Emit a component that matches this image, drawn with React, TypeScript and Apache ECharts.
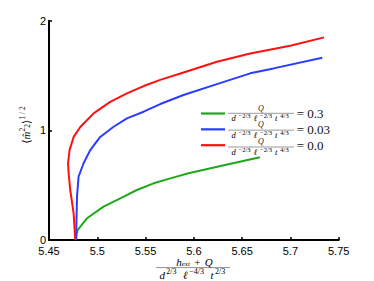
import React, { useEffect, useRef } from 'react';
import * as echarts from 'echarts';

// Legend values of Q / (d^{-2/3} l^{-2/3} t^{4/3})
const qLabels = ['0.3', '0.03', '0.0'];
const seriesColors = ['#1ea81a', '#2a3cff', '#ff1010'];

// Q = 0.3 (green)
const greenX = [5.478, 5.4786, 5.4796, 5.4893, 5.5065, 5.5238, 5.541, 5.5583, 5.5756, 5.5945, 5.63, 5.6685];
const greenY = [0, 0.05, 0.091, 0.198, 0.304, 0.38, 0.456, 0.517, 0.562, 0.608, 0.68, 0.754];

// Q = 0.03 (blue)
const blueX = [5.478, 5.4785, 5.479, 5.4806, 5.4858, 5.4927, 5.503, 5.5169, 5.5307, 5.548, 5.5652, 5.5893, 5.6239, 5.6584, 5.6825, 5.733];
const blueY = [0, 0.2, 0.395, 0.577, 0.7, 0.82, 0.94, 1.033, 1.109, 1.17, 1.24, 1.322, 1.422, 1.52, 1.565, 1.662];

// Q = 0.0 (red)
const redX = [5.4772, 5.4755, 5.472, 5.4703, 5.4697, 5.4713, 5.4755, 5.4824, 5.4962, 5.5134, 5.5307, 5.548, 5.5652, 5.5893, 5.6239, 5.6584, 5.6998, 5.7348];
const redY = [0, 0.243, 0.456, 0.61, 0.7, 0.82, 0.94, 1.03, 1.155, 1.26, 1.337, 1.404, 1.46, 1.528, 1.625, 1.7, 1.771, 1.848];

const xMin = 5.45;
const xMax = 5.75;
const xStep = 0.05;
const yMin = 0;
const yMax = 2;
const yStep = 1;

const zip = (xs: number[], ys: number[]) => xs.map((x, i) => [x, ys[i]]);

const seriesNames = qLabels.map((q) => `Q/(d^(-2/3) ℓ^(-2/3) t^(4/3)) = ${q}`);
const seriesData = [zip(greenX, greenY), zip(blueX, blueY), zip(redX, redY)];

const SERIF = '"Liberation Serif", "DejaVu Serif", serif';
const SANS = '"Liberation Sans", Arial, sans-serif';

export default function App() {
  const ref = useRef<HTMLDivElement>(null);

  useEffect(() => {
    if (!ref.current) return;
    const chart = echarts.init(ref.current, null, { renderer: 'svg' });

    const legBase = { fontSize: 8.5, fontStyle: 'italic', fontFamily: SERIF, color: '#222', lineHeight: 8 };
    const legSup = { fontSize: 6.5, fontFamily: SERIF, color: '#222', lineHeight: 3, height: 3, verticalAlign: 'top' };
    const denomRich = {
      d: { ...legBase, width: 5 },
      l: { ...legBase, width: 4.5 },
      t: { ...legBase, width: 3.5 },
      s: { ...legSup, width: 17 },
      s2: { ...legSup, width: 13 },
    };

    const legendGraphics: any[] = [];
    qLabels.forEach((_, i) => {
      const cy = 114 + i * 16.85;
      legendGraphics.push({
        type: 'text',
        x: 261,
        y: cy - 6,
        z: 100,
        style: { text: 'Q', font: `italic 8px ${SERIF}`, fill: '#222', align: 'center', verticalAlign: 'middle', lineHeight: 6 },
      });
      legendGraphics.push({
        type: 'line',
        z: 100,
        shape: { x1: 228, y1: cy - 0.7, x2: 294, y2: cy - 0.7 },
        style: { stroke: '#333', lineWidth: 0.5 },
      });
      legendGraphics.push({
        type: 'text',
        x: 261,
        y: cy + 4.2,
        z: 100,
        style: {
          text: '{d|d}{s|−2/3}{l|ℓ}{s|−2/3}{t|t}{s2|4/3}',
          rich: denomRich,
          align: 'center',
          verticalAlign: 'middle',
        },
      });
    });

    const numRich = {
      b: { fontSize: 11, fontStyle: 'italic', fontFamily: SERIF, color: '#444', lineHeight: 10 },
      r: { fontSize: 11, fontFamily: SERIF, color: '#444', lineHeight: 10, width: 15, align: 'center' },
      sub: { fontSize: 7, fontStyle: 'italic', fontFamily: SERIF, color: '#444', lineHeight: 5, height: 5, verticalAlign: 'bottom' },
    };

    const denRich = {
      b: { fontSize: 11, fontStyle: 'italic', fontFamily: SERIF, color: '#444', lineHeight: 10 },
      sp: { fontSize: 11, fontFamily: SERIF, color: '#444', lineHeight: 10, width: 5 },
      sup: { fontSize: 8, fontFamily: SERIF, color: '#444', lineHeight: 4, height: 4, verticalAlign: 'top', width: 13 },
      supw: { fontSize: 8, fontFamily: SERIF, color: '#444', lineHeight: 4, height: 4, verticalAlign: 'top', width: 18 },
    };

    const yRich = {
      p: { fontSize: 11, fontFamily: SERIF, color: '#808080', lineHeight: 13, verticalAlign: 'bottom' },
      m: { fontSize: 11, fontStyle: 'italic', fontFamily: SERIF, color: '#808080', lineHeight: 13, verticalAlign: 'bottom' },
      sup: { fontSize: 7.5, fontFamily: SERIF, color: '#808080', lineHeight: 4, verticalAlign: 'top' },
      sub: { fontSize: 7.5, fontFamily: SERIF, color: '#808080', lineHeight: 4, verticalAlign: 'bottom' },
    };

    chart.setOption({
      animation: false,
      backgroundColor: '#fff',
      grid: { left: 49, right: 35.3, top: 20.7, bottom: 41 },
      xAxis: {
        type: 'value',
        min: xMin,
        max: xMax,
        interval: xStep,
        axisLine: { show: true, lineStyle: { color: '#000', width: 2 } },
        axisTick: { show: true, inside: true, length: 3, lineStyle: { color: '#000', width: 1.5 } },
        axisLabel: { color: '#000', fontSize: 11, fontFamily: SANS, margin: 5.5, lineHeight: 10 },
        splitLine: { show: false },
      },
      yAxis: {
        type: 'value',
        min: yMin,
        max: yMax,
        interval: yStep,
        axisLine: { show: true, lineStyle: { color: '#000', width: 2 } },
        axisTick: { show: true, inside: true, length: 3, lineStyle: { color: '#000', width: 1.5 } },
        axisLabel: { color: '#000', fontSize: 11, fontFamily: SANS, margin: 3, lineHeight: 9 },
        splitLine: { show: false },
      },
      legend: {
        orient: 'vertical',
        left: 201,
        top: 107,
        padding: 0,
        itemGap: 2.85,
        itemWidth: 24,
        itemHeight: 2.2,
        icon: 'rect',
        selectedMode: false,
        data: seriesNames,
        formatter: (name: string) => {
          const i = seriesNames.indexOf(name);
          return `{gap| }{eq|= ${qLabels[i]}}`;
        },
        textStyle: {
          rich: {
            gap: { width: 66.7, lineHeight: 14, fontSize: 8 },
            eq: { fontFamily: SERIF, fontSize: 13, color: '#111', lineHeight: 14 },
          },
        },
      },
      series: seriesNames.map((name, i) => ({
        name,
        type: 'line',
        data: seriesData[i],
        showSymbol: false,
        symbol: 'none',
        smooth: false,
        lineStyle: { color: seriesColors[i], width: 2 },
        itemStyle: { color: seriesColors[i] },
        z: 2 + i,
      })),
      graphic: [
        ...legendGraphics,
        {
          type: 'text',
          x: 25,
          y: 125,
          rotation: Math.PI / 2,
          z: 100,
          style: {
            text: '{p|⟨}{m|m̂}{sup|2}{sub|2}{p|⟩}{sup|1 / 2}',
            rich: yRich,
            align: 'center',
            verticalAlign: 'middle',
          },
        },
        {
          type: 'text',
          x: 194.5,
          y: 261.8,
          z: 100,
          style: {
            text: '{b|h}{sub|ext}{r|+}{b|Q}',
            rich: numRich,
            align: 'center',
            verticalAlign: 'middle',
          },
        },
        {
          type: 'line',
          z: 100,
          shape: { x1: 156, y1: 267.6, x2: 230, y2: 267.6 },
          style: { stroke: '#444', lineWidth: 0.6 },
        },
        {
          type: 'text',
          x: 193,
          y: 274.8,
          z: 100,
          style: {
            text: '{b|d}{sup|2/3}{sp| }{b|ℓ}{supw|−4/3}{sp| }{b|t}{sup|2/3}',
            rich: denRich,
            align: 'center',
            verticalAlign: 'middle',
          },
        },
      ],
    });

    return () => chart.dispose();
  }, []);

  return <div ref={ref} style={{ position: 'fixed', left: 0, top: 0, width: 374, height: 281 }} />;
}
